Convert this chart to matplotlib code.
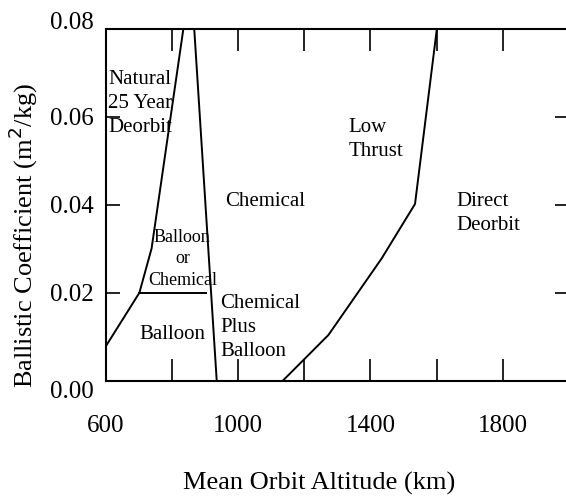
import matplotlib
matplotlib.use("Agg")
import matplotlib.pyplot as plt

plt.rcParams['font.family'] = ['Liberation Serif', 'DejaVu Serif']
plt.rcParams['axes.linewidth'] = 1.5

# boundary curves (altitude km, ballistic coefficient m2/kg)
natural_x = [600, 701, 738, 834]
natural_y = [0.0079, 0.020, 0.0301, 0.080]

chem_x = [867, 935]
chem_y = [0.080, 0.000]

split_x = [701, 903]
split_y = [0.020, 0.020]

thrust_x = [1601, 1535, 1434, 1273, 1135]
thrust_y = [0.080, 0.0402, 0.0278, 0.0104, 0.000]

# region labels
region_text = ["Natural\n25 Year\nDeorbit", "Balloon\nor\nChemical", "Balloon",
               "Chemical", "Chemical\nPlus\nBalloon", "Low\nThrust", "Direct\nDeorbit"]
region_x = [606, 831, 802, 960, 945, 1333, 1659]
region_y = [0.0630, 0.0277, 0.0106, 0.0408, 0.0121, 0.0549, 0.0380]
region_ha = ["left", "center", "center", "left", "left", "left", "left"]
region_size = [15, 13, 15, 15, 15, 15, 15]

xticks = [600, 800, 1000, 1200, 1400, 1600, 1800, 2000]
xlabels = ["600", "", "1000", "", "1400", "", "1800", ""]
yticks = [0.00, 0.02, 0.04, 0.06, 0.08]
ylabels = ["0.00", "0.02", "0.04", "0.06", "0.08"]

fig = plt.figure(figsize=(5.66, 4.98), dpi=100)
ax = fig.add_axes([106 / 566, 1 - 380.7 / 498, 462.7 / 566, 351.7 / 498])

lw = 1.4
ax.plot(natural_x, natural_y, color='black', lw=lw)
ax.plot(chem_x, chem_y, color='black', lw=lw)
ax.plot(split_x, split_y, color='black', lw=lw)
ax.plot(thrust_x, thrust_y, color='black', lw=lw)

ax.set_xlim(600, 2000)
ax.set_ylim(0, 0.08)
ax.set_xticks(xticks)
ax.set_xticklabels(xlabels)
ax.set_yticks(yticks)
ax.set_yticklabels(ylabels)
ax.tick_params(axis='x', direction='in', top=True, bottom=True,
               length=16, width=1.2, pad=25, labelsize=18)
ax.tick_params(axis='y', direction='in', left=True, right=True,
               length=10, width=1.2, pad=9, labelsize=18)

# end labels on the y axis sit off their ticks
ylab = ax.get_yticklabels()
ylab[0].set_va('top')
ylab[-1].set_va('baseline')

for txt, x, y, ha, fs in zip(region_text, region_x, region_y, region_ha, region_size):
    ax.text(x, y, txt, ha=ha, va='center', fontsize=fs, linespacing=1.35)

ax.set_xlabel("Mean Orbit Altitude (km)", fontsize=19, va='center')
ax.xaxis.set_label_coords(0.461, -0.291)
ax.set_ylabel("Ballistic Coefficient (m$^2$/kg)", fontsize=19, va='center')
ax.yaxis.set_label_coords(-0.178, 0.414)

# make sure the inward ticks on the top and left edges are drawn
fig.canvas.draw()
for t in ax.xaxis.get_major_ticks():
    t.tick1line.set_visible(True)
    t.tick2line.set_visible(True)
for t in ax.yaxis.get_major_ticks():
    t.tick1line.set_visible(True)
    t.tick2line.set_visible(True)

fig.savefig("out.png", dpi=100)
